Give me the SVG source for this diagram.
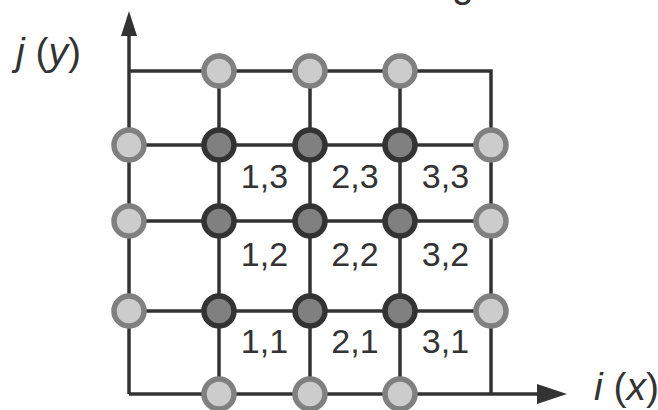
<svg xmlns="http://www.w3.org/2000/svg" width="658" height="410" viewBox="0 0 658 410">
  <style>
    .ln { stroke: #333333; stroke-width: 3.5; fill: none; }
    .lt { fill: #cccccc; stroke: #808080; stroke-width: 5.5; }
    .dk { fill: #808080; stroke: #333333; stroke-width: 5.5; }
    .lbl { font-family: "Liberation Sans", Arial, sans-serif; font-size: 34px; fill: #333333; text-anchor: middle; }
    .ax { font-family: "Liberation Sans", Arial, sans-serif; font-size: 39px; fill: #333333; }
    .it { font-style: italic; }
  </style>
  <g id="title-fragment">
    <text class="ax" x="452" y="-3.5">g</text>
  </g>
  <g id="connectors">
    <path class="ln" d="M129,394 V34"/>
    <polygon points="129,11 121,36 137,36" fill="#333333"/>
    <path class="ln" d="M129,394 H539"/>
    <polygon points="567,394 537,384 537,404" fill="#333333"/>
    <path class="ln" d="M129,71 H491 V394"/>
    <path class="ln" d="M129,145 H491 M129,221 H491 M129,311 H491"/>
    <path class="ln" d="M219,71 V394 M310,71 V394 M400,71 V394"/>
  </g>
  <g id="boundary-top">
    <circle class="lt" cx="219" cy="71" r="15"/>
    <circle class="lt" cx="310" cy="71" r="15"/>
    <circle class="lt" cx="400" cy="71" r="15"/>
  </g>
  <g id="boundary-bottom">
    <circle class="lt" cx="219" cy="394" r="15"/>
    <circle class="lt" cx="310" cy="394" r="15"/>
    <circle class="lt" cx="400" cy="394" r="15"/>
  </g>
  <g id="boundary-left">
    <circle class="lt" cx="129" cy="145" r="15"/>
    <circle class="lt" cx="129" cy="221" r="15"/>
    <circle class="lt" cx="129" cy="311" r="15"/>
  </g>
  <g id="boundary-right">
    <circle class="lt" cx="491" cy="145" r="15"/>
    <circle class="lt" cx="491" cy="221" r="15"/>
    <circle class="lt" cx="491" cy="311" r="15"/>
  </g>
  <g id="interior">
    <circle class="dk" cx="219" cy="145" r="15"/>
    <circle class="dk" cx="310" cy="145" r="15"/>
    <circle class="dk" cx="400" cy="145" r="15"/>
    <circle class="dk" cx="219" cy="221" r="15"/>
    <circle class="dk" cx="310" cy="221" r="15"/>
    <circle class="dk" cx="400" cy="221" r="15"/>
    <circle class="dk" cx="219" cy="311" r="15"/>
    <circle class="dk" cx="310" cy="311" r="15"/>
    <circle class="dk" cx="400" cy="311" r="15"/>
  </g>
  <g id="cell-labels">
    <text class="lbl" x="264.5" y="188">1,3</text>
    <text class="lbl" x="355" y="188">2,3</text>
    <text class="lbl" x="445.5" y="188">3,3</text>
    <text class="lbl" x="264.5" y="266">1,2</text>
    <text class="lbl" x="355" y="266">2,2</text>
    <text class="lbl" x="445.5" y="266">3,2</text>
    <text class="lbl" x="264.5" y="353">1,1</text>
    <text class="lbl" x="355" y="353">2,1</text>
    <text class="lbl" x="445.5" y="353">3,1</text>
  </g>
  <g id="axis-labels">
    <text class="ax" x="16" y="65"><tspan class="it">j</tspan> (<tspan class="it">y</tspan>)</text>
    <text class="ax" x="594" y="400"><tspan class="it">i</tspan> (<tspan class="it">x</tspan>)</text>
  </g>
</svg>
